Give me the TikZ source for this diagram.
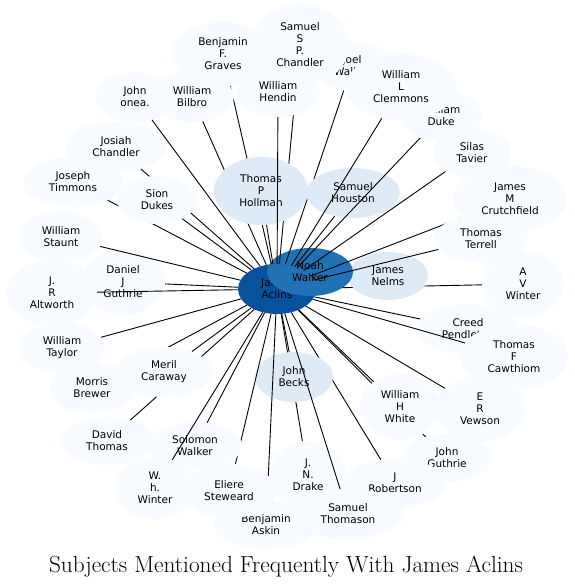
\documentclass[tikz,border=0pt]{standalone}
\usepackage{fontspec}
\usepackage{tikz}
\usetikzlibrary{shapes.geometric}
\newfontfamily\labelfont{DejaVu Sans}
\definecolor{focuscolor}{RGB}{8,81,156}
\definecolor{walkercolor}{RGB}{33,113,181}
\definecolor{commoncolor}{RGB}{222,235,247}
\definecolor{rarecolor}{RGB}{247,251,255}
\definecolor{linkcolor}{RGB}{0,0,0}

\begin{document}
\begin{tikzpicture}[
    x=1pt, y=-1pt,
    % Estilos dos nos
    person/.style={
        ellipse,
        inner sep=0pt,
        align=center,
        draw=none,
        font=\labelfont\fontsize{10.5}{12}\selectfont,
        text=black,
    },
    focusnode/.style={person, fill=focuscolor},
    walkernode/.style={person, fill=walkercolor},
    commonnode/.style={person, fill=commoncolor},
    rarenode/.style={person, fill=rarecolor},
    % Estilo das ligacoes
    link/.style={draw=linkcolor, line width=0.9pt},
    titlelabel/.style={font=\fontsize{23.3}{26}\selectfont, anchor=base},
]
\useasboundingbox (0,0) rectangle (574,587);

% ============================================================================
% CENTRO
% ============================================================================
\node[focusnode, minimum width=78pt, minimum height=50pt] (aclins) at (277,289) {James\\Aclins};

\node[rarenode, minimum width=82pt, minimum height=66pt] (avwinter) at (523,284) {A\\V\\Winter};
\draw[link] (aclins) -- (avwinter);
\node[commonnode, minimum width=80pt, minimum height=48pt] (nelms) at (388,276) {James\\Nelms};
\draw[link] (aclins) -- (nelms);

\node[walkernode, minimum width=86pt, minimum height=48pt] (walker) at (310,272) {Noah\\Walker};

% ============================================================================
% TOPO
% ============================================================================
\node[rarenode, minimum width=102pt, minimum height=64pt] (graves) at (223,54) {Benjamin\\F.\\Graves};
\draw[link] (aclins) -- (graves);
\node[rarenode, minimum width=80pt, minimum height=50pt] (joel) at (352,66) {Joel\\Walker};
\draw[link] (aclins) -- (joel);
\node[rarenode, minimum width=98pt, minimum height=82pt] (spchandler) at (300,45) {Samuel\\S\\P.\\Chandler};
\draw[link] (aclins) -- (spchandler);
\node[rarenode, minimum width=80pt, minimum height=50pt] (john) at (135,97) {John\\onea.};
\draw[link] (aclins) -- (john);
\node[rarenode, minimum width=84pt, minimum height=50pt] (bilbro) at (192,97) {William\\Bilbro};
\draw[link] (aclins) -- (bilbro);
\node[commonnode, minimum width=94pt, minimum height=50pt] (houston) at (353,193) {Samuel\\Houston};
\draw[link] (aclins) -- (houston);
\node[commonnode, minimum width=94pt, minimum height=68pt] (hollman) at (261,191) {Thomas\\P\\Hollman};
\draw[link] (aclins) -- (hollman);
\node[rarenode, minimum width=84pt, minimum height=50pt] (hendin) at (278,92) {William\\Hendin};
\draw[link] (aclins) -- (hendin);
\node[rarenode, minimum width=84pt, minimum height=50pt] (duke) at (441,116) {William\\Duke};
\draw[link] (aclins) -- (duke);
\node[rarenode, minimum width=112pt, minimum height=66pt] (clemmons) at (401,87) {William\\L\\Clemmons};
\draw[link] (aclins) -- (clemmons);

% ============================================================================
% DIREITA
% ============================================================================
\node[rarenode, minimum width=78pt, minimum height=50pt] (silas) at (472,153) {Silas\\Tavier};
\draw[link] (aclins) -- (silas);
\node[rarenode, minimum width=114pt, minimum height=66pt] (crutch) at (510,199) {James\\M\\Crutchfield};
\draw[link] (aclins) -- (crutch);
\node[rarenode, minimum width=94pt, minimum height=48pt] (terrell) at (481,239) {Thomas\\Terrell};
\draw[link] (aclins) -- (terrell);
\node[rarenode, minimum width=104pt, minimum height=50pt] (creed) at (468,329) {Creed\\Pendleton};
\draw[link] (aclins) -- (creed);
\node[rarenode, minimum width=108pt, minimum height=66pt] (cawthiom) at (514,357) {Thomas\\F\\Cawthiom};
\draw[link] (aclins) -- (cawthiom);
\node[rarenode, minimum width=90pt, minimum height=66pt] (vewson) at (480,409) {E\\R\\Vewson};
\draw[link] (aclins) -- (vewson);
\node[rarenode, minimum width=90pt, minimum height=48pt] (jguthrie) at (447,458) {John\\Guthrie};
\draw[link] (aclins) -- (jguthrie);
\node[rarenode, minimum width=80pt, minimum height=66pt] (white) at (400,407) {William\\H\\White};
\draw[link] (aclins) -- (white);

% ============================================================================
% BAIXO
% ============================================================================
\node[rarenode, minimum width=104pt, minimum height=48pt] (robertson) at (395,483) {J\\Robertson};
\draw[link] (aclins) -- (robertson);
\node[rarenode, minimum width=76pt, minimum height=68pt] (drake) at (308,475) {J.\\N.\\Drake};
\draw[link] (aclins) -- (drake);
\node[commonnode, minimum width=78pt, minimum height=50pt] (becks) at (294,377) {John\\Becks};
\draw[link] (aclins) -- (becks);
\node[rarenode, minimum width=112pt, minimum height=50pt] (thomason) at (348,514) {Samuel\\Thomason};
\draw[link] (aclins) -- (thomason);
\node[rarenode, minimum width=104pt, minimum height=48pt] (askin) at (266,525) {Benjamin\\Askin};
\draw[link] (aclins) -- (askin);
\node[rarenode, minimum width=94pt, minimum height=54pt] (eliere) at (229,491) {Eliere\\Steweard};
\draw[link] (aclins) -- (eliere);
\node[rarenode, minimum width=94pt, minimum height=48pt] (solomon) at (195,446) {Solomon\\Walker};
\draw[link] (aclins) -- (solomon);
\node[rarenode, minimum width=80pt, minimum height=62pt] (whwinter) at (155,488) {W.\\h.\\Winter};
\draw[link] (aclins) -- (whwinter);

% ============================================================================
% ESQUERDA
% ============================================================================
\node[rarenode, minimum width=94pt, minimum height=48pt] (david) at (107,441) {David\\Thomas};
\draw[link] (aclins) -- (david);
\node[rarenode, minimum width=86pt, minimum height=50pt] (morris) at (92,388) {Morris\\Brewer};
\draw[link] (aclins) -- (morris);
\node[rarenode, minimum width=96pt, minimum height=50pt] (meril) at (164,372) {Meril\\Caraway};
\draw[link] (aclins) -- (meril);
\node[rarenode, minimum width=86pt, minimum height=50pt] (taylor) at (62,348) {William\\Taylor};
\draw[link] (aclins) -- (taylor);
\node[rarenode, minimum width=84pt, minimum height=66pt] (dguthrie) at (123,282) {Daniel\\J\\Guthrie};
\draw[link] (aclins) -- (dguthrie);
\node[rarenode, minimum width=90pt, minimum height=66pt] (altworth) at (52,293) {J.\\R\\Altworth};
\draw[link] (aclins) -- (altworth);
\node[rarenode, minimum width=84pt, minimum height=50pt] (staunt) at (61,237) {William\\Staunt};
\draw[link] (aclins) -- (staunt);
\node[rarenode, minimum width=100pt, minimum height=50pt] (timmons) at (73,182) {Joseph\\Timmons};
\draw[link] (aclins) -- (timmons);
\node[rarenode, minimum width=102pt, minimum height=50pt] (josiah) at (116,147) {Josiah\\Chandler};
\draw[link] (aclins) -- (josiah);
\node[rarenode, minimum width=80pt, minimum height=48pt] (sion) at (157,200) {Sion\\Dukes};
\draw[link] (aclins) -- (sion);

% ============================================================================
% TITULO
% ============================================================================
\node[titlelabel] (title) at (286,572) {Subjects Mentioned Frequently With James Aclins};

\end{tikzpicture}
\end{document}
